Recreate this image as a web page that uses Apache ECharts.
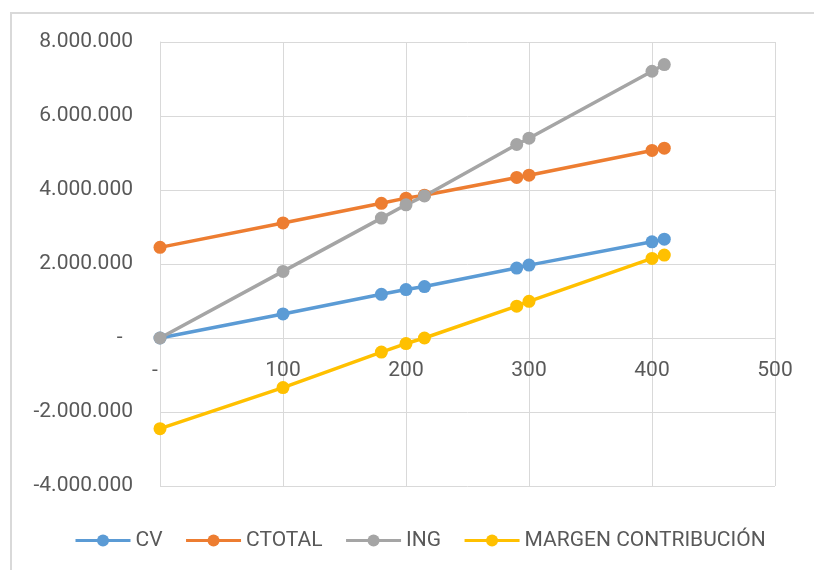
<!DOCTYPE html>
<html>
<head>
<meta charset="utf-8">
<script src="https://cdn.jsdelivr.net/npm/echarts@6/dist/echarts.min.js"></script>
<style>
  html, body { margin: 0; padding: 0; background: #ffffff; }
  #chart { width: 814px; height: 570px; }
</style>
</head>
<body>
<div id="chart"></div>
<script>
// Units produced (x) and the four cost / revenue lines (y, in pesos)
const units = [0, 100, 180, 200, 215, 290, 300, 400, 410];
const cv = [0, 650000, 1180000, 1310000, 1390000, 1890000, 1970000, 2600000, 2670000];
const ctotal = [2450000, 3110000, 3640000, 3780000, 3860000, 4340000, 4400000, 5070000, 5130000];
const ing = [0, 1800000, 3240000, 3600000, 3840000, 5230000, 5400000, 7210000, 7390000];
const margen = [-2450000, -1340000, -380000, -150000, 0, 860000, 990000, 2150000, 2240000];

const seriesNames = ['CV', 'CTOTAL', 'ING', 'MARGEN CONTRIBUCIÓN'];
const seriesValues = [cv, ctotal, ing, margen];
const seriesColors = ['#5B9BD5', '#ED7D31', '#A5A5A5', '#FFC000'];

// Spanish-style thousands separator, "-" for zero
function fmtThousands(v) {
  if (v === 0) return '-  ';
  const s = Math.abs(v).toString().replace(/\B(?=(\d{3})+(?!\d))/g, '.');
  return (v < 0 ? '-' : '') + s;
}

const FONT = 'Roboto, "Noto Sans", sans-serif';
const TEXT = '#595959';
const GRID = '#D9D9D9';

const Y_MIN = -4000000, Y_MAX = 8000000;
const GRID_TOP = 42, GRID_BOTTOM = 84, CHART_H = 570;
// lift the x axis from the bottom edge up to the y = 0 line
const plotH = CHART_H - GRID_TOP - GRID_BOTTOM;
const xAxisLift = -plotH * (0 - Y_MIN) / (Y_MAX - Y_MIN);

const chart = echarts.init(document.getElementById('chart'), null, { renderer: 'canvas' });

chart.setOption({
  backgroundColor: '#ffffff',
  animation: false,
  textStyle: { fontFamily: FONT },
  graphic: [{
    type: 'rect',
    z: -10,
    shape: { x: 11, y: 13, width: 1200, height: 1000 },
    style: { fill: 'none', stroke: '#D9D9D9', lineWidth: 2 }
  }],
  grid: { left: 160, right: 39, top: GRID_TOP, bottom: GRID_BOTTOM, containLabel: false },
  xAxis: {
    type: 'value',
    min: 0, max: 500, interval: 100,
    offset: xAxisLift,
    axisLine: { show: true, onZero: false, lineStyle: { color: GRID, width: 1 } },
    axisTick: { show: false },
    splitLine: { show: true, lineStyle: { color: GRID, width: 1 } },
    axisLabel: {
      color: TEXT, fontSize: 21, fontFamily: FONT, margin: 22,
      formatter: v => (v === 0 ? '-  ' : String(v))
    }
  },
  yAxis: {
    type: 'value',
    min: Y_MIN, max: Y_MAX, interval: 2000000,
    axisLine: { show: true, onZero: false, lineStyle: { color: GRID, width: 1 } },
    axisTick: { show: false },
    splitLine: { show: true, lineStyle: { color: GRID, width: 1 } },
    axisLabel: {
      color: TEXT, fontSize: 21, fontFamily: FONT, margin: 27,
      formatter: v => fmtThousands(v)
    }
  },
  legend: {
    left: 69, top: 525,
    itemWidth: 55, itemHeight: 15, itemGap: 22,
    lineStyle: { width: 3 },
    textStyle: { color: TEXT, fontSize: 21, fontFamily: FONT },
    data: seriesNames
  },
  series: seriesNames.map((name, i) => ({
    name: name,
    type: 'line',
    data: units.map((u, k) => [u, seriesValues[i][k]]),
    symbol: 'circle',
    symbolSize: 13,
    showSymbol: true,
    color: seriesColors[i],
    lineStyle: { width: 3.5, color: seriesColors[i] },
    itemStyle: { color: seriesColors[i] }
  }))
});
</script>
</body>
</html>
